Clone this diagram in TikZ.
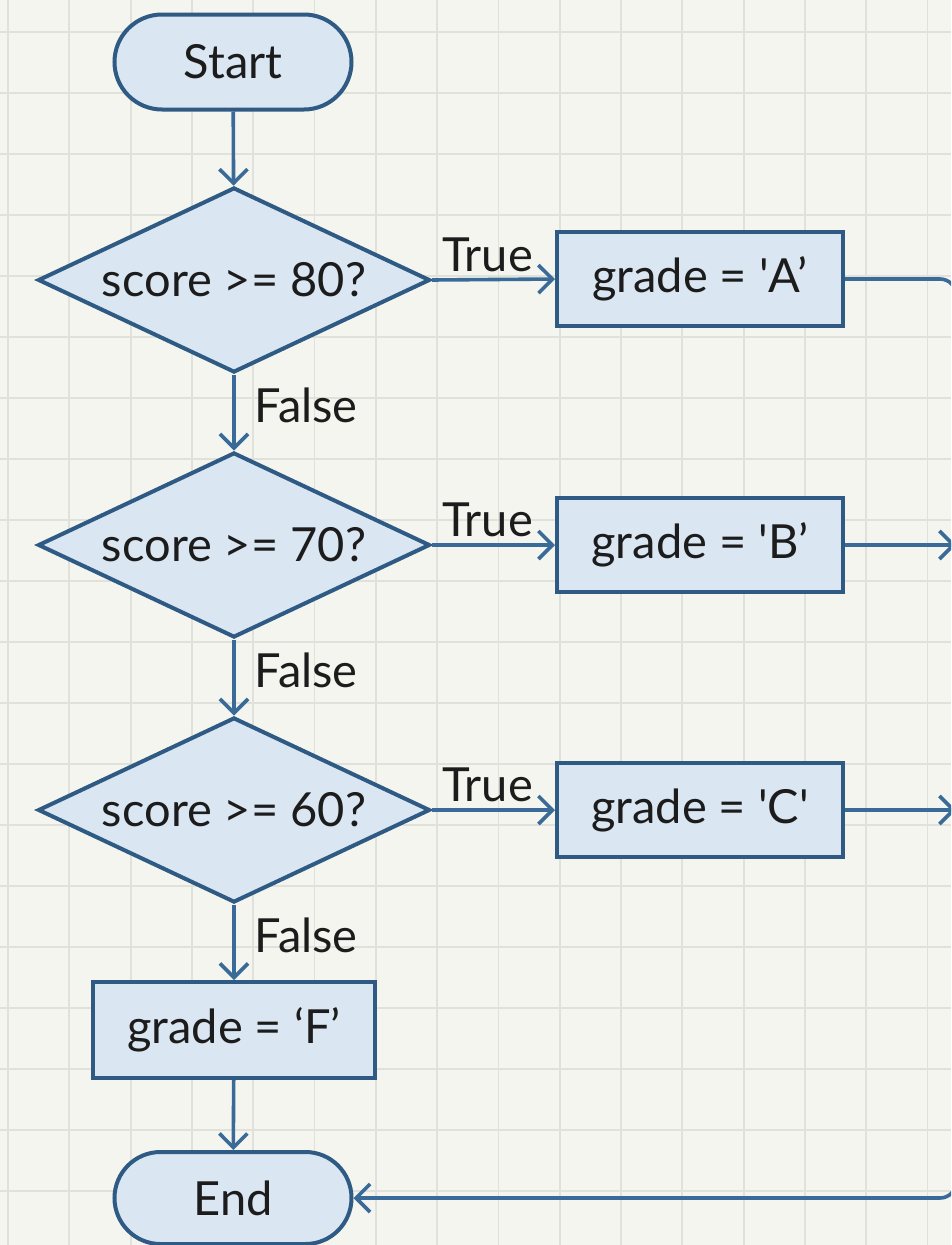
\documentclass[tikz,border=0pt]{standalone}
\usepackage{fontspec}
\setmainfont{Lato}
\usetikzlibrary{shapes.geometric,shapes.misc,arrows.meta,calc}
\definecolor{bgc}{HTML}{F4F5EF}
\definecolor{gridc}{HTML}{E0E1DA}
\definecolor{fillc}{HTML}{DAE6F2}
\definecolor{edgec}{HTML}{2E5A84}
\definecolor{arrc}{HTML}{3A6B98}
\definecolor{txtc}{HTML}{1C1C1C}
\tikzset{
  base/.style={draw=edgec, fill=fillc, line width=4pt, text=txtc, inner sep=0pt,
    font=\fontsize{47}{54}\selectfont},
  term/.style={base, rounded rectangle, minimum width=237pt, minimum height=95pt},
  proc/.style={base, rectangle, minimum width=286pt, minimum height=94pt},
  dec/.style={base, diamond, shape aspect=2.1, minimum width=392pt, minimum height=185pt},
  flow/.style={draw=arrc, line width=3.6pt, -{Straight Barb[length=14pt,width=28pt,line width=3.6pt]}},
  lbl/.style={text=txtc, font=\fontsize{47}{54}\selectfont, inner sep=0pt}
}
\begin{document}
\begin{tikzpicture}[x=1pt,y=-1pt]
\useasboundingbox (0,0) rectangle (951,1245);
\clip (0,0) rectangle (951,1245);
\fill[bgc] (0,0) rectangle (951,1245);
\foreach \i in {0,...,15} {\draw[gridc, line width=1.8pt] ({8+61.3*\i},0) -- ({8+61.3*\i},1245);}
\foreach \j in {0,...,20} {\draw[gridc, line width=1.8pt] (0,{32+61*\j}) -- (951,{32+61*\j});}

\node[term] (start) at (233,62) {Start};
\node[dec] (d1) at (234,280) {score >= 80?};
\node[dec] (d2) at (234,545) {score >= 70?};
\node[dec] (d3) at (234,810) {score >= 60?};
\node[proc] (A) at (700,279) {grade = \textquotesingle A’};
\node[proc] (B) at (700,545) {grade = \textquotesingle B’};
\node[proc] (C) at (700,810) {grade = \textquotesingle C\textquotesingle};
\node[proc, minimum width=282pt, minimum height=96pt] (F) at (234,1030) {grade = ‘F’};
\node[term, minimum height=92pt] (end) at (233,1198) {End};
\coordinate (rx) at (956,0);

\draw[flow] (start) -- (d1);
\draw[flow] (d1.east) -- node[lbl, above=6pt, xshift=-6pt] {True} (A.west);
\draw[flow] (d2.east) -- node[lbl, above=6pt, xshift=-6pt] {True} (B.west);
\draw[flow] (d3.east) -- node[lbl, above=6pt, xshift=-6pt] {True} (C.west);
\draw[flow] (d1.south) -- node[lbl, anchor=west, xshift=19pt, yshift=7pt] {False} (d2.north);
\draw[flow] (d2.south) -- node[lbl, anchor=west, xshift=19pt, yshift=7pt] {False} (d3.north);
\draw[flow] (d3.south) -- node[lbl, anchor=west, xshift=19pt, yshift=7pt] {False} (F.north);
\draw[flow] (F) -- (end);
\draw[flow, rounded corners=16pt] (A.east) -- (A.east -| rx) -- (end.east -| rx) -- (end.east);
\draw[flow] (B.east) -- (B.east -| rx);
\draw[flow] (C.east) -- (C.east -| rx);
\end{tikzpicture}
\end{document}
